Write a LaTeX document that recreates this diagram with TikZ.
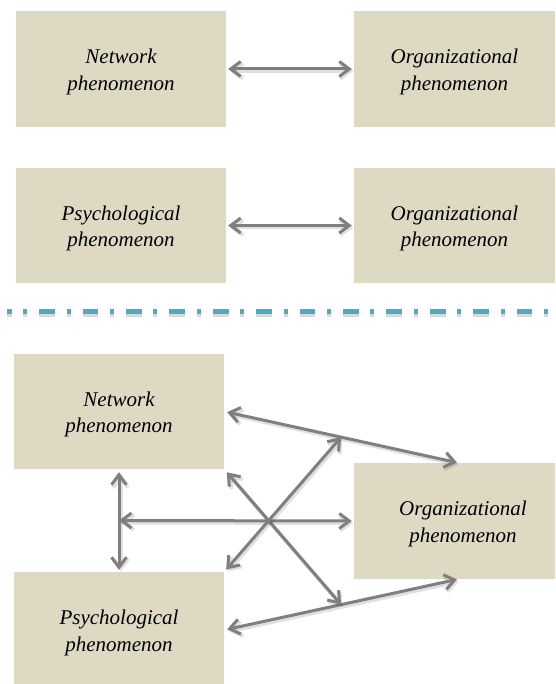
\documentclass[tikz,border=0pt]{standalone}
\usepackage{fontspec}
\setmainfont{Liberation Serif}
\usetikzlibrary{arrows.meta,calc}

\definecolor{boxfill}{HTML}{DDD9C3}
\definecolor{arrowgray}{HTML}{7F7F7F}
\definecolor{sepblue}{HTML}{4BACC6}

\tikzset{
  phen/.style={fill=boxfill, draw=none, inner sep=0pt, align=center,
    text height=47.4pt, text depth=5pt,
    font=\fontsize{21}{26.5}\selectfont\itshape},
  link/.style={draw=arrowgray, line width=3pt,
    {Straight Barb[length=10pt,width=15pt]}-{Straight Barb[length=10pt,width=15pt]},
    preaction={draw=black, opacity=0.12, line width=4pt,
      transform canvas={shift={(1.5pt,-2pt)}}}},
  sepshadow/.style={draw=black, opacity=0.15, line width=4.6pt,
    dash pattern=on 15.7pt off 11.7pt on 4pt off 12pt, dash phase=11.2pt},
  sepline/.style={draw=sepblue, line width=4.6pt,
    dash pattern=on 15.7pt off 11.7pt on 4pt off 12pt, dash phase=11.2pt}
}

\begin{document}
\begin{tikzpicture}[x=1pt,y=-1pt]
\useasboundingbox (0,0) rectangle (555,684);
\clip (0,0) rectangle (555,684);

% two-factor relations
\node[phen, minimum width=210pt, minimum height=116pt] (n1) at (121,69) {Network\\phenomenon};
\node[phen, minimum width=201pt, minimum height=116pt] (o1) at (454.5,69) {Organizational\\phenomenon};
\node[phen, minimum width=210pt, minimum height=115pt] (p1) at (121,225.5) {Psychological\\phenomenon};
\node[phen, minimum width=201pt, minimum height=115pt] (o2) at (454.5,225.5) {Organizational\\phenomenon};

\draw[link, shorten <=2pt, shorten >=2pt] (n1) -- (o1);
\draw[link, shorten <=2pt, shorten >=2pt] (p1) -- (o2);

% separator with its soft shadow
\coordinate (sl) at (7,311.5);
\coordinate (sr) at (560,311.5);
\draw[sepshadow] ([yshift=-3pt]sl) -- ([yshift=-3pt]sr);
\draw[sepline] (sl) -- (sr);

% three-factor relations
\node[phen, minimum width=210pt, minimum height=115pt] (nb) at (119,411.5) {Network\\phenomenon};
\node[phen, minimum width=218pt, minimum height=116pt] (ob) at (463,521) {Organizational\\phenomenon};
\node[phen, minimum width=210pt, minimum height=116pt] (pb) at (119,630) {Psychological\\phenomenon};

\coordinate (ot) at ([xshift=-5pt]ob.north);
\coordinate (os) at ([xshift=-5pt]ob.south);
\coordinate (mt) at ($(nb.east)!0.5!(ot)$);
\coordinate (ms) at ($(pb.east)!0.5!(os)$);
\coordinate (vm) at ($(nb.south)!0.5!(pb.north)$);

\draw[link, shorten <=3pt, shorten >=1pt] (nb.east) -- (ot);
\draw[link, shorten <=3pt, shorten >=1pt] (pb.east) -- (os);
\draw[link, shorten <=3pt, shorten >=2pt] (nb.south) -- (pb.north);
\draw[link, shorten >=2pt] (vm) -- (ob.west);
\draw[link, shorten <=4pt] (nb.south east) -- (ms);
\draw[link, shorten <=3pt] (pb.north east) -- (mt);
\end{tikzpicture}
\end{document}
